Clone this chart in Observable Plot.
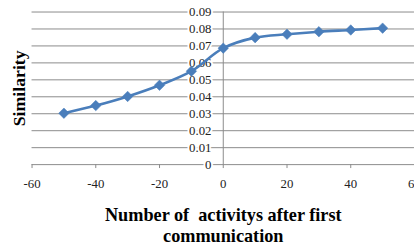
<!DOCTYPE html>
<html><head><meta charset="utf-8">
<script src="https://cdn.jsdelivr.net/npm/d3@7"></script>
<script src="https://cdn.jsdelivr.net/npm/@observablehq/plot@0.6"></script>
<style>
html,body{margin:0;padding:0;background:#fff;overflow:hidden;}
svg text{white-space:pre;}
svg, svg g, svg text, svg tspan{font-family:"Liberation Serif","DejaVu Serif",serif !important;}
</style>
</head><body><div id="chart"></div>
<script>
const activities = [-50, -40, -30, -20, -10, 0, 10, 20, 30, 40, 50];
const similarity = [0.0303, 0.0348, 0.0402, 0.0468, 0.0551, 0.0687, 0.0749, 0.0769, 0.0784, 0.0794, 0.0805];
const xTicks = [-60, -40, -20, 0, 20, 40, 60];
const yTicks = [0, 0.01, 0.02, 0.03, 0.04, 0.05, 0.06, 0.07, 0.08, 0.09];
const yTickLabels = ["0", "0.01", "0.02", "0.03", "0.04", "0.05", "0.06", "0.07", "0.08", "0.09"];
const xTitle = "Number of  activitys after first\ncommunication";
const yTitle = "Similarity";

const data = activities.map((x, i) => ({x, y: similarity[i]}));
const yt = yTicks.map((v, i) => ({v, label: yTickLabels[i]}));
const grid = "#8a8a8a";

const chart = Plot.plot({
  width: 420, height: 249,
  marginLeft: 32, marginRight: 0, marginTop: 11.7, marginBottom: 82.5,
  style: {background: "#fff"},
  x: {type: "linear", domain: [-60, 60], axis: null},
  y: {type: "linear", domain: [0, 0.09], axis: null},
  marks: [
    Plot.ruleY(yTicks, {x1: -60, x2: 60, stroke: grid, strokeWidth: 1}),
    Plot.ruleX([0], {y1: 0, y2: 0.09, stroke: grid, strokeWidth: 1}),
    Plot.axisX({ticks: xTicks, tickSize: 4, tickPadding: 10, stroke: grid, label: null, fontSize: 13, fill: "#222", tickFormat: d => String(d)}),
    Plot.text(yt, {x: 0, y: "v", text: "label", textAnchor: "end", dx: -12, fontSize: 13, fill: "#222", stroke: "white", strokeWidth: 4, paintOrder: "stroke"}),
    Plot.line(data, {x: "x", y: "y", stroke: "#4a7ebb", strokeWidth: 2.6, curve: "catmull-rom"}),
    Plot.dot(data, {x: "x", y: "y", symbol: "diamond2", r: 4.8, fill: "#4a7ebb", stroke: "#4a7ebb", strokeWidth: 0.5}),
    Plot.text([yTitle], {frameAnchor: "left", textAnchor: "middle", dx: -13, rotate: -90, text: d => d, fontSize: 18, fontWeight: "bold", fill: "#000"}),
    Plot.text([xTitle], {frameAnchor: "bottom", textAnchor: "middle", dy: 41.5, lineAnchor: "top", lineHeight: 1.17, text: d => d, fontSize: 18.5, fontWeight: "bold", fill: "#000"})
  ]
});
document.getElementById("chart").appendChild(chart);
</script>
</body></html>
